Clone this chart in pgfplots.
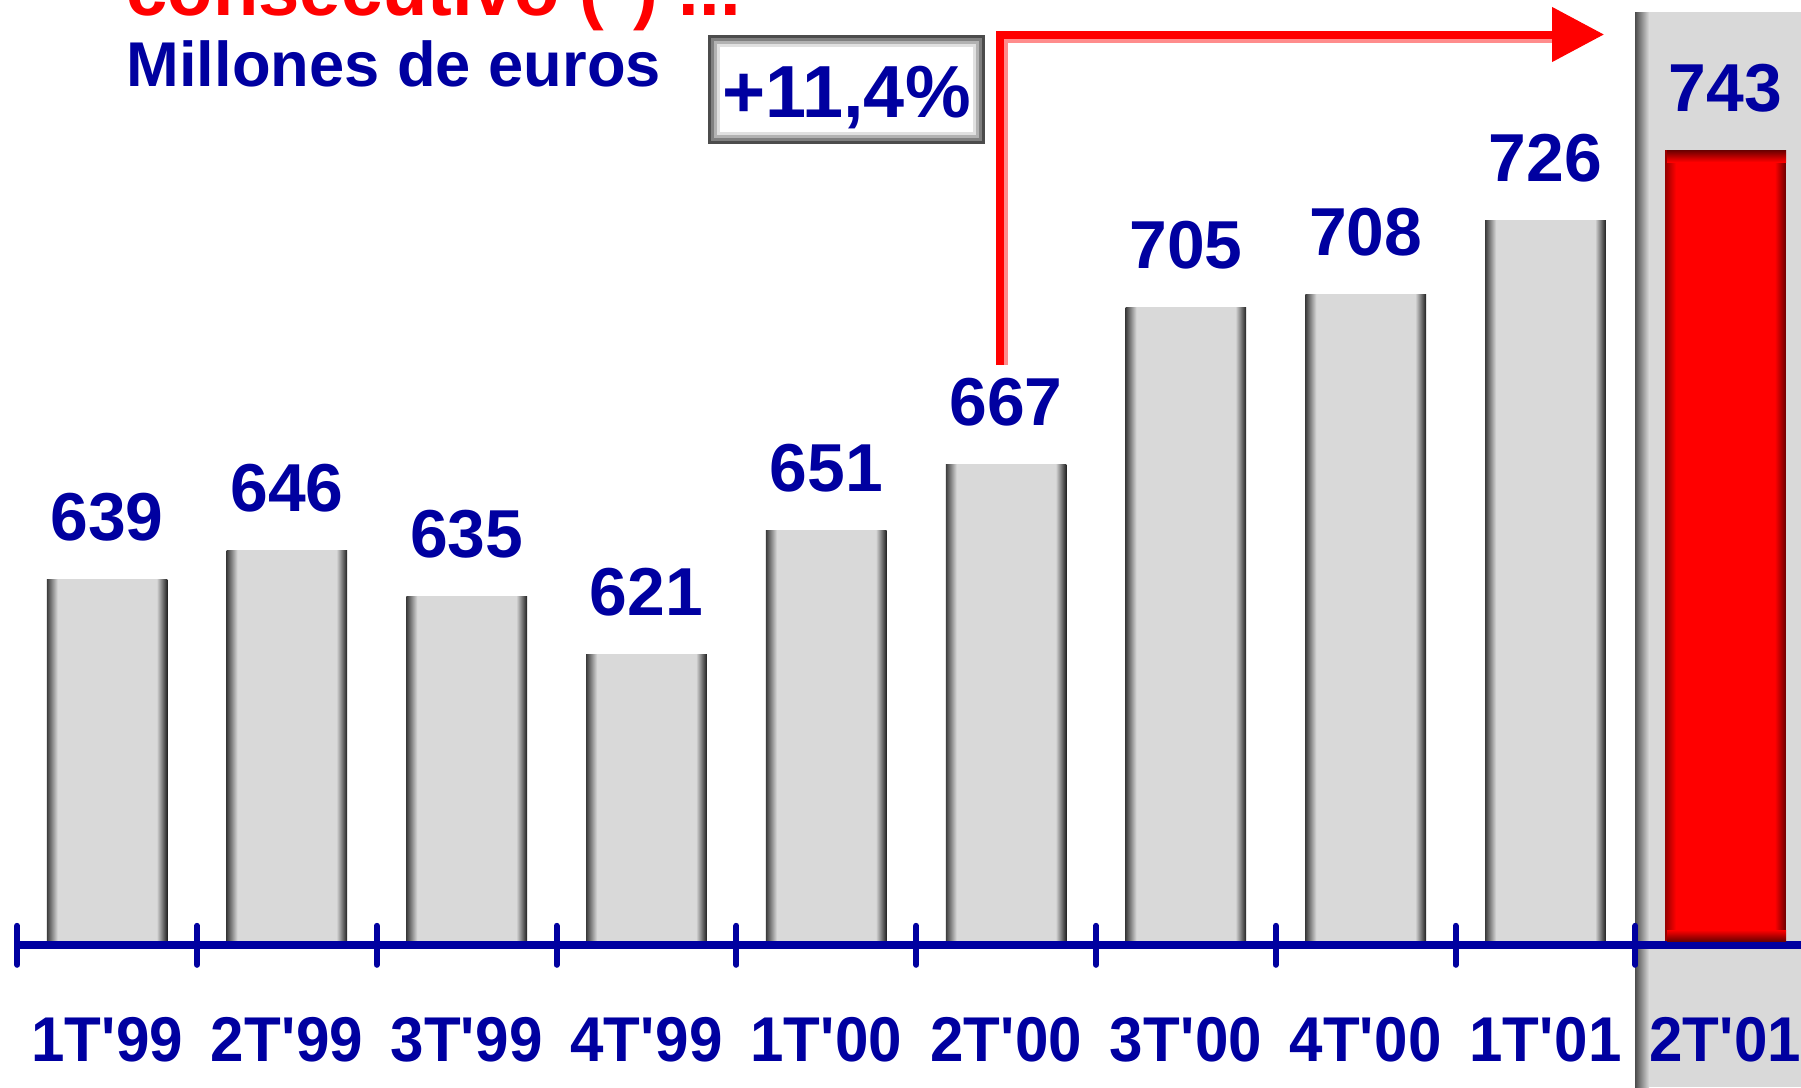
\documentclass[border=0pt]{standalone}
\usepackage{fontspec}
\setmainfont{Liberation Sans}
\newfontfamily\catfont{Liberation Sans}[FakeStretch=0.95]
\usepackage{pgfplots}
\pgfplotsset{compat=1.18}
\usetikzlibrary{arrows.meta}
\definecolor{axblue}{RGB}{0,0,160}
\definecolor{barg}{RGB}{217,217,217}
\definecolor{edgeL}{RGB}{60,60,60}
\definecolor{edgeR}{RGB}{30,30,30}
\definecolor{redL}{RGB}{150,0,0}
\definecolor{redR}{RGB}{110,0,0}
\definecolor{panelgray}{RGB}{217,217,217}
\pgfdeclarehorizontalshading{grayshade}{100bp}{color(0bp)=(edgeL); color(25bp)=(edgeL); color(29.5bp)=(barg); color(70.5bp)=(barg); color(75bp)=(edgeR); color(100bp)=(edgeR)}
\pgfdeclarehorizontalshading{redshade}{100bp}{color(0bp)=(redL); color(25bp)=(redL); color(29.5bp)=(red); color(70.5bp)=(red); color(75bp)=(redR); color(100bp)=(redR)}
\begin{document}
\begin{tikzpicture}
\begin{scope}[x=0.1mm,y=-0.1mm,yshift=108.7mm]
  \fill[panelgray] (1635,12) rectangle (1801,1087);
  \shade[left color=black!70, right color=panelgray] (1635,12) rectangle (1649,1087);
\end{scope}
\begin{axis}[
  at={(1.72mm,14.17mm)}, anchor=south west,
  scale only axis, width=178.38mm, height=94.53mm,
  xmin=-0.5, xmax=9.421, ymin=550.5, ymax=779.4,
  axis on top,
  axis x line=bottom, axis y line=none,
  x axis line style={draw=axblue, line width=0.8mm, -},
  ytick=\empty,
  xtick={0,...,9},
  xticklabels={1T\textquotesingle99,2T\textquotesingle99,3T\textquotesingle99,4T\textquotesingle99,1T\textquotesingle00,2T\textquotesingle00,3T\textquotesingle00,4T\textquotesingle00,1T\textquotesingle01,2T\textquotesingle01},
  major tick length=0pt,
  tick style={draw=axblue, line width=0.6mm, line cap=round},
  xticklabel style={anchor=base, yshift=-11.64mm, text=axblue, font=\catfont\bfseries\fontsize{18}{20}\selectfont},
  extra x ticks={-0.5,0.5,...,8.5}, extra x tick labels={},
  extra x tick style={major tick length=3.9mm, tick align=center, tick style={draw=axblue, line width=0.6mm, line cap=round}},
  ybar, bar width=0.671, bar shift=0pt,
  /pgf/number format/assume math mode=true,
  nodes near coords,
  every node near coord/.append style={anchor=base, yshift=3.9mm, text=axblue, font=\bfseries\fontsize{19.3}{21}\selectfont},
]
\addplot[draw=none, shade, shading=grayshade] coordinates {(0,639)};
\addplot[draw=none, shade, shading=grayshade] coordinates {(1,646)};
\addplot[draw=none, shade, shading=grayshade] coordinates {(2,635)};
\addplot[draw=none, shade, shading=grayshade] coordinates {(3,621)};
\addplot[draw=none, shade, shading=grayshade] coordinates {(4,651)};
\addplot[draw=none, shade, shading=grayshade] coordinates {(5,667)};
\addplot[draw=none, shade, shading=grayshade] coordinates {(6,705)};
\addplot[draw=none, shade, shading=grayshade] coordinates {(7,708)};
\addplot[draw=none, shade, shading=grayshade] coordinates {(8,726)};
\addplot[draw=none, shade, shading=redshade] coordinates {(9,743)};
\end{axis}
\begin{scope}[x=0.1mm,y=-0.1mm,yshift=108.7mm]
  \shade[top color=redR, bottom color=red] (1667,150.5) rectangle (1786,162);
  \shade[top color=red, bottom color=redR] (1667,930) rectangle (1786,941);
  \draw[axblue, line width=0.75mm] (17.2,945.3) -- (1801,945.3);
  \draw[red!45, line width=0.7mm] (1004,365) -- (1004,39) -- (1560,39);
  \draw[red, line width=0.8mm, line join=miter, -{Triangle[length=5.2mm,width=5.3mm]}] (1000,365) -- (1000,34.5) -- (1604,34.5);
  \fill[white] (708,35) rectangle (985,144);
  \draw[black!70, line width=0.3mm] (709.5,36.5) rectangle (983.5,142.5);
  \draw[black!50, line width=0.3mm] (712.5,39.5) rectangle (980.5,139.5);
  \draw[black!30, line width=0.3mm] (715.5,42.5) rectangle (977.5,136.5);
  \draw[black!12, line width=0.3mm] (718.5,45.5) rectangle (974.5,133.5);
  \node[anchor=base, inner sep=0, text=axblue, font=\bfseries\fontsize{21}{23}\selectfont] at (846.5,117) {+11,4\%};
  \node[anchor=base west, inner sep=0, text=axblue, font=\bfseries\fontsize{18}{20}\selectfont] at (126,86) {Millones de euros};
  \node[anchor=base west, inner sep=0, text=red, font=\bfseries\fontsize{21.1}{23}\selectfont] at (126,15) {consecutivo (*) ...};
\end{scope}
\pgfresetboundingbox
\path[use as bounding box] (0,0) rectangle (180.1mm,108.7mm);
\end{tikzpicture}
\end{document}
